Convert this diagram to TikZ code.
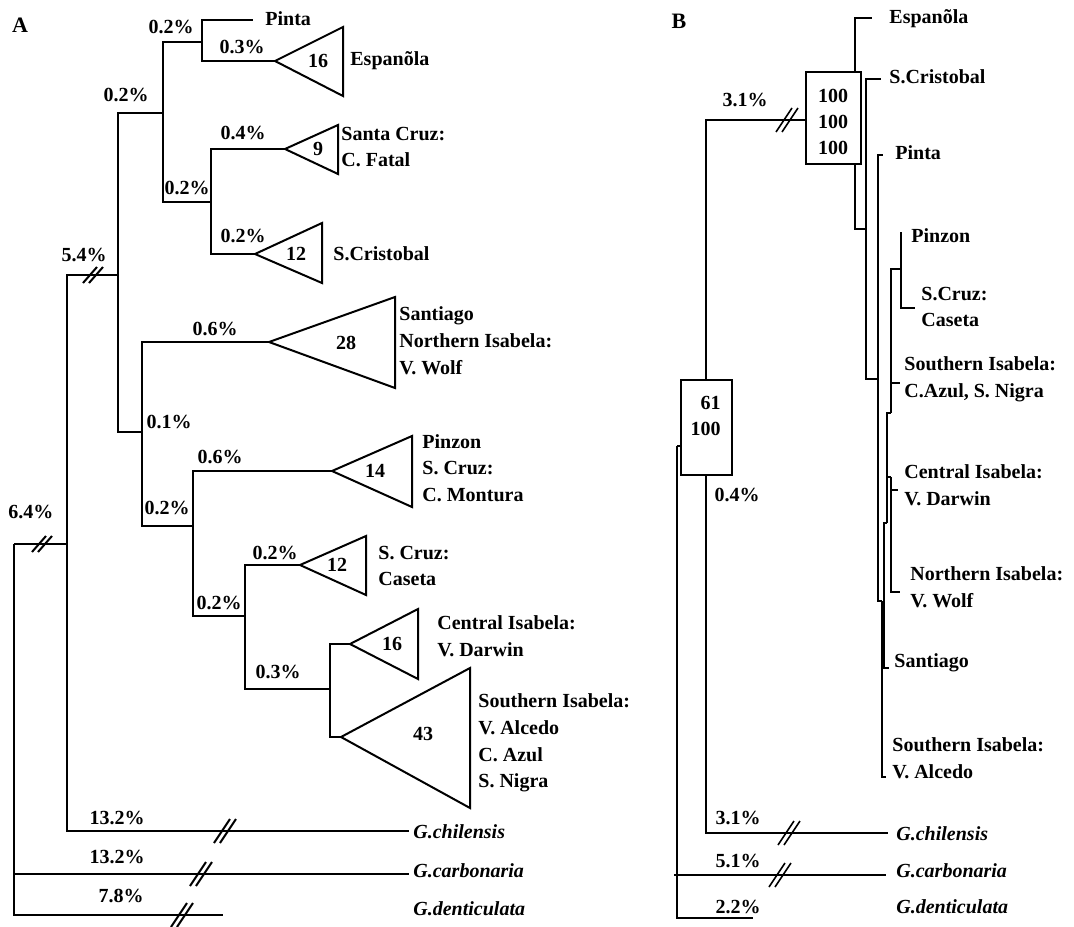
\documentclass[tikz,border=0pt]{standalone}
\usepackage{fontspec}
\setmainfont{Liberation Serif}
\begin{document}
\begin{tikzpicture}[x=0.5pt,y=-0.5pt,
  br/.style={line width=1pt},
  brb/.style={line width=0.8pt},
  brt/.style={line width=0.55pt},
  txt/.style={font=\bfseries\fontsize{10}{13.4}\selectfont, inner sep=0pt},
  leaf/.style={txt, anchor=west, align=left},
  pct/.style={txt},
  sp/.style={txt, font=\bfseries\itshape\fontsize{10}{13.4}\selectfont, anchor=west},
  tri/.style={line width=1pt, fill=white},
  boxed/.style={draw, line width=0.8pt, fill=white},
  brkS/.pic={\draw[line width=1pt] (-10,8) -- (4,-8) (-4,8) -- (10,-8);},
  brkL/.pic={\draw[line width=1pt] (-11,12) -- (5,-12) (-5,12) -- (11,-12);},
  brkB/.pic={\draw[line width=0.8pt] (-11,12) -- (5,-12) (-5,12) -- (11,-12);},
]
\useasboundingbox (0,0) rectangle (1074,926);

% ---------------- Panel A ----------------
\node[txt, font=\bfseries\fontsize{11}{13}\selectfont] (labA) at (20,25) {A};

\coordinate (a0) at (14,544);
\coordinate (a1) at (67,544);
\coordinate (aR) at (118,275);
\coordinate (aQ) at (163,113);
\coordinate (aP) at (202,42);
\coordinate (aS) at (211,202);
\coordinate (aT) at (142,432);
\coordinate (aU) at (193,526);
\coordinate (aV) at (245,616);
\coordinate (aW) at (330,689);

\coordinate (tPinta) at (253,20);
\coordinate (tEsp) at (275,61);
\coordinate (tFat) at (285,149);
\coordinate (tCri) at (255,254);
\coordinate (tSan) at (269,342);
\coordinate (tPnz) at (332,471);
\coordinate (tCas) at (300,565);
\coordinate (tDar) at (350,644);
\coordinate (tAlc) at (341,737);
\coordinate (tChi) at (409,831);
\coordinate (tCar) at (409,874);
\coordinate (tDen) at (223,915);

\draw[br] (a0) |- (a1)  (a0) |- (tCar)  (a0) |- (tDen)
          (a1) |- (aR)  (a1) |- (tChi)
          (aR) |- (aQ)  (aR) |- (aT)
          (aQ) |- (aP)  (aQ) |- (aS)
          (aP) |- (tPinta)  (aP) |- (tEsp)
          (aS) |- (tFat)  (aS) |- (tCri)
          (aT) |- (tSan)  (aT) |- (aU)
          (aU) |- (tPnz)  (aU) |- (aV)
          (aV) |- (tCas)  (aV) |- (aW)
          (aW) |- (tDar)  (aW) |- (tAlc);

% triangles
\draw[tri] (tEsp) -- (343,27) -- (343,96) -- cycle;
\draw[tri] (tFat) -- (338,125) -- (338,174) -- cycle;
\draw[tri] (tCri) -- (322,223) -- (322,283) -- cycle;
\draw[tri] (tSan) -- (395,297) -- (395,388) -- cycle;
\draw[tri] (tPnz) -- (412,436) -- (412,507) -- cycle;
\draw[tri] (tCas) -- (366,536) -- (366,595) -- cycle;
\draw[tri] (tDar) -- (418,609) -- (418,679) -- cycle;
\draw[tri] (tAlc) -- (470,668) -- (470,808) -- cycle;

\node[txt] (nEsp) at (318,61) {16};
\node[txt] (nFat) at (318,149) {9};
\node[txt] (nCri) at (296,254) {12};
\node[txt] (nSan) at (346,343) {28};
\node[txt] (nPnz) at (375,471) {14};
\node[txt] (nCas) at (337,565) {12};
\node[txt] (nDar) at (392,644) {16};
\node[txt] (nAlc) at (423,734) {43};

% breaks
\pic at (93,275) {brkS};
\pic at (42,544) {brkS};
\pic at (225,831) {brkL};
\pic at (201,874) {brkL};
\pic at (182,915) {brkL};

% leaf labels
\node[leaf] (laPin) at (265,19) {Pinta};
\node[leaf] (laEsp) at (350,61) {Espanõla};
\node[leaf] (laFat) at (341,147) {Santa Cruz:\\C. Fatal};
\node[leaf] (laCri) at (333,254) {S.Cristobal};
\node[leaf] (laSan) at (399,341) {Santiago\\Northern Isabela:\\V. Wolf};
\node[leaf] (laPnz) at (422,468) {Pinzon\\S. Cruz:\\C. Montura};
\node[leaf] (laCas) at (378,566) {S. Cruz:\\Caseta};
\node[leaf] (laDar) at (437,636) {Central Isabela:\\V. Darwin};
\node[leaf] (laAlc) at (478,743) {Southern Isabela:\\V. Alcedo\\C. Azul\\S. Nigra};
\node[sp] (laChi) at (413,832) {G.chilensis};
\node[sp] (laCar) at (413,871) {G.carbonaria};
\node[sp] (laDen) at (413,909) {G.denticulata};

% percentages
\node[pct] (pa1) at (171,27) {0.2\%};
\node[pct] (pa2) at (242,47) {0.3\%};
\node[pct] (pa3) at (126,95) {0.2\%};
\node[pct] (pa4) at (243,133) {0.4\%};
\node[pct] (pa5) at (187,188) {0.2\%};
\node[pct] (pa6) at (243,236) {0.2\%};
\node[pct] (pa7) at (84,255) {5.4\%};
\node[pct] (pa8) at (215,329) {0.6\%};
\node[pct] (pa9) at (169,422) {0.1\%};
\node[pct] (pa10) at (220,457) {0.6\%};
\node[pct] (pa11) at (167,508) {0.2\%};
\node[pct] (pa12) at (275,553) {0.2\%};
\node[pct] (pa13) at (219,603) {0.2\%};
\node[pct] (pa14) at (31,512) {6.4\%};
\node[pct] (pa15) at (278,672) {0.3\%};
\node[pct] (pa16) at (117,818) {13.2\%};
\node[pct] (pa17) at (117,857) {13.2\%};
\node[pct] (pa18) at (121,896) {7.8\%};

% ---------------- Panel B ----------------
\node[txt, font=\bfseries\fontsize{11}{13}\selectfont] (labB) at (679,21) {B};

\coordinate (bRoot) at (677,446);
\coordinate (bOut) at (706,446);
\coordinate (bIn) at (855,120);
\coordinate (b2) at (866,229);
\coordinate (b3) at (878,379);
\coordinate (b4) at (882,601);
\coordinate (b5) at (884,640);
\coordinate (b7) at (887,523);
\coordinate (b8) at (891,413);
\coordinate (b10) at (891,477);
\coordinate (b9) at (901,269);

\coordinate (uEsp) at (872,18);
\coordinate (uCri) at (881,79);
\coordinate (uPin) at (883,155);
\coordinate (uPnz) at (901,232);
\coordinate (uCas) at (915,308);
\coordinate (uAzu) at (900,383);
\coordinate (uDar) at (898,490);
\coordinate (uWol) at (900,592);
\coordinate (uSan) at (889,668);
\coordinate (uAlc) at (886,777);
\coordinate (uChi) at (888,833);
\coordinate (uCar) at (886,875);
\coordinate (uDen) at (753,918);
\coordinate (uCarStub) at (674,875);

\draw[brb] (bRoot) |- (bOut)  (bRoot) |- (uCar)  (bRoot) |- (uDen)
           (uCarStub) -- (uCar)
           (bOut) |- (bIn)  (bOut) |- (uChi)
           (bIn) |- (uEsp)  (bIn) |- (b2)
           (b2) |- (uCri)  (b2) |- (b3)
           (b3) |- (uPin)  (b3) |- (b4);
\draw[brt] (b4) |- (uAlc)  (b4) |- (b5)
           (b5) |- (uSan)  (b5) |- (b7)
           (b7) |- (b8)  (b7) |- (b10)
           (b8) |- (b9)  (b8) |- (uAzu)
           (b10) |- (uDar)  (b10) |- (uWol)
           (b9) |- (uPnz)  (b9) |- (uCas);

% support boxes
\node[boxed, minimum width=27.5pt, minimum height=46pt, inner sep=0pt] (box1) at (833.5,118) {};
\node[txt, align=center, font=\bfseries\fontsize{10}{12.8}\selectfont] (box1t) at (833,122) {100\\100\\100};
\node[boxed, minimum width=25.5pt, minimum height=47.5pt, inner sep=0pt] (box2) at (706.5,427.5) {};
\node[txt, align=right, anchor=east] (box2t) at (721,416) {61\\100};

% breaks
\pic at (787,120) {brkB};
\pic at (789,833) {brkB};
\pic at (780,875) {brkB};

% leaf labels
\node[leaf] (lbEsp) at (889,19) {Espanõla};
\node[leaf] (lbCri) at (889,77) {S.Cristobal};
\node[leaf] (lbPin) at (895,153) {Pinta};
\node[leaf] (lbPnz) at (911,236) {Pinzon};
\node[leaf] (lbCas) at (921,307) {S.Cruz:\\Caseta};
\node[leaf] (lbAzu) at (904,379) {Southern Isabela:\\C.Azul, S. Nigra};
\node[leaf] (lbDar) at (904,485) {Central Isabela:\\V. Darwin};
\node[leaf] (lbWol) at (910,587) {Northern Isabela:\\V. Wolf};
\node[leaf] (lbSan) at (894,663) {Santiago};
\node[leaf] (lbAlc) at (892,758) {Southern Isabela:\\V. Alcedo};
\node[sp] (lbChi) at (896,834) {G.chilensis};
\node[sp] (lbCar) at (896,871) {G.carbonaria};
\node[sp] (lbDen) at (896,907) {G.denticulata};

% percentages
\node[pct] (pb1) at (745,100) {3.1\%};
\node[pct] (pb2) at (737,495) {0.4\%};
\node[pct] (pb3) at (738,818) {3.1\%};
\node[pct] (pb4) at (738,861) {5.1\%};
\node[pct] (pb5) at (738,907) {2.2\%};
\end{tikzpicture}
\end{document}
